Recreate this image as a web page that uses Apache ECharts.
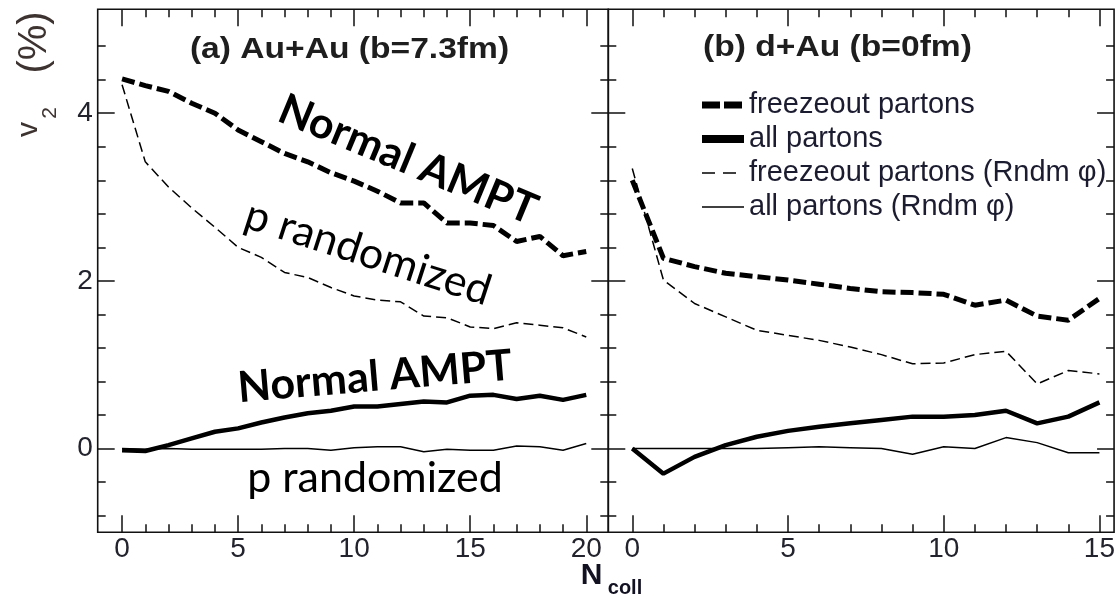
<!DOCTYPE html>
<html>
<head>
<meta charset="utf-8">
<script src="https://cdn.jsdelivr.net/npm/echarts@6/dist/echarts.min.js"></script>
<style>
  html, body { margin: 0; padding: 0; background: #fff; }
  #chart { width: 1118px; height: 605px; }
</style>
</head>
<body>
<div id="chart"></div>
<script>
// N_coll values
var nAuAu = [0, 1, 2, 3, 4, 5, 6, 7, 8, 9, 10, 11, 12, 13, 14, 15, 16, 17, 18, 19, 20];
var nDAu = [0, 1, 2, 3, 4, 5, 6, 7, 8, 9, 10, 11, 12, 13, 14, 15];

// (a) Au+Au, v2 in %
var auFreeze = [4.41, 4.33, 4.26, 4.12, 4.00, 3.80, 3.66, 3.52, 3.42, 3.29, 3.19, 3.07, 2.93, 2.93, 2.69, 2.69, 2.66, 2.47, 2.53, 2.30, 2.35];
var auAll = [-0.02, -0.03, 0.04, 0.12, 0.20, 0.24, 0.31, 0.37, 0.42, 0.45, 0.50, 0.50, 0.53, 0.56, 0.55, 0.63, 0.64, 0.59, 0.63, 0.58, 0.64];
var auFreezeRnd = [4.34, 3.42, 3.12, 2.87, 2.64, 2.40, 2.28, 2.10, 2.04, 1.92, 1.82, 1.77, 1.75, 1.58, 1.56, 1.45, 1.43, 1.50, 1.47, 1.44, 1.33];
var auAllRnd = [0.0, -0.01, 0.0, -0.01, -0.01, -0.01, -0.01, 0.0, 0.0, -0.02, 0.01, 0.02, 0.02, -0.04, -0.01, -0.02, -0.02, 0.03, 0.02, -0.02, 0.06];

// (b) d+Au
var daFreeze = [3.20, 2.27, 2.17, 2.09, 2.05, 2.01, 1.96, 1.91, 1.87, 1.86, 1.84, 1.71, 1.77, 1.58, 1.53, 1.79];
var daAll = [0.0, -0.30, -0.10, 0.04, 0.14, 0.21, 0.26, 0.30, 0.34, 0.38, 0.38, 0.40, 0.45, 0.30, 0.38, 0.55];
var daFreezeRnd = [3.34, 2.01, 1.73, 1.57, 1.41, 1.35, 1.29, 1.21, 1.12, 1.01, 1.02, 1.12, 1.16, 0.77, 0.93, 0.89];
var daAllRnd = [0.0, 0.0, 0.0, 0.0, 0.0, 0.01, 0.02, 0.01, 0.0, -0.07, 0.02, 0.0, 0.13, 0.07, -0.05, -0.05];

// ticks
var yMajor = [0, 2, 4];
var yMinor = [-0.8, -0.4, 0.4, 0.8, 1.2, 1.6, 2.4, 2.8, 3.2, 3.6, 4.4, 4.8];
var xMajorA = [0, 5, 10, 15, 20];
var xMajorB = [0, 5, 10, 15];
var names = ['freezeout partons', 'all partons', 'freezeout partons (Rndm \u03c6)', 'all partons (Rndm \u03c6)'];

var labelFont = 'Liberation Sans, Arial, sans-serif';

function ints(a, b) {
    var out = [];
    for (var i = a; i <= b; i++) out.push(i);
    return out;
}
function notFive(v) { return v % 5 !== 0; }

// one major + one minor axis for a side of a grid
function sideAxes(grid, min, max, major, minor, pos, showLabels) {
    var base = {
        type: 'value', gridIndex: grid, min: min, max: max, position: pos,
        axisLine: { show: false, onZero: false }, splitLine: { show: false }
    };
    var maj = Object.assign({}, base, {
        axisTick: { show: true, inside: true, length: 17, customValues: major, lineStyle: { color: '#111', width: 1.5 } },
        axisLabel: { show: showLabels, customValues: major, fontSize: 28, fontFamily: labelFont, color: '#23232e', margin: pos === 'left' ? 5 : 3 }
    });
    var mnr = Object.assign({}, base, {
        axisTick: { show: true, inside: true, length: 8, customValues: minor, lineStyle: { color: '#111', width: 1.5 } },
        axisLabel: { show: false }
    });
    return [maj, mnr];
}

var xAxes = [].concat(
    sideAxes(0, -1.05, 20.95, xMajorA, ints(1, 19).filter(notFive), 'bottom', true),
    sideAxes(0, -1.05, 20.95, xMajorA, ints(1, 19).filter(notFive), 'top', false),
    sideAxes(1, -0.77, 15.47, xMajorB, ints(1, 14).filter(notFive), 'bottom', true),
    sideAxes(1, -0.77, 15.47, xMajorB, ints(1, 14).filter(notFive), 'top', false)
);
var yAxes = [].concat(
    sideAxes(0, -1, 5.24, yMajor, yMinor, 'left', true),
    sideAxes(0, -1, 5.24, yMajor, yMinor, 'right', false),
    sideAxes(1, -1, 5.24, yMajor, yMinor, 'left', false),
    sideAxes(1, -1, 5.24, yMajor, yMinor, 'right', false)
);

var styles = [
    { width: 5, type: [13, 5], legendWidth: 7, legendType: [18, 4] },
    { width: 4.5, type: 'solid', legendWidth: 8, legendType: 'solid' },
    { width: 1.5, type: [10, 5], legendWidth: 1.5, legendType: [13, 8] },
    { width: 1.5, type: 'solid', legendWidth: 1.5, legendType: 'solid' }
];

function pairs(xs, ys) {
    return xs.map(function (x, i) { return [x, ys[i]]; });
}

function panelSeries(xIdx, yIdx, xs, sets) {
    return sets.map(function (ys, k) {
        return {
            type: 'line', name: names[k], xAxisIndex: xIdx, yAxisIndex: yIdx,
            data: pairs(xs, ys), symbol: 'none', smooth: false, animation: false,
            lineStyle: { color: '#000', width: styles[k].width, type: styles[k].type, cap: 'butt' },
            itemStyle: { color: '#000' }
        };
    });
}

var series = [].concat(
    panelSeries(0, 0, nAuAu, [auFreeze, auAll, auFreezeRnd, auAllRnd]),
    panelSeries(4, 4, nDAu, [daFreeze, daAll, daFreezeRnd, daAllRnd])
);

var legendData = names.map(function (n, k) {
    return {
        name: n,
        lineStyle: { color: '#000', width: styles[k].legendWidth, type: styles[k].legendType, cap: 'butt' },
        itemStyle: { color: 'rgba(0,0,0,0)', borderWidth: 0, opacity: 0 }
    };
});

var annoFont = 'Lato, Open Sans, sans-serif';
function txt(x, y, text, font, color, rot, sx) {
    return {
        type: 'text', x: x, y: y, rotation: rot || 0, scaleX: sx || 1, z: 100,
        style: { text: text, font: font, fill: color, align: 'center', verticalAlign: 'middle' }
    };
}

var option = {
    animation: false,
    grid: [
        { left: 97.7, top: 9.3, width: 510.6, height: 523, show: true, borderColor: '#111', borderWidth: 1.6, backgroundColor: 'transparent' },
        { left: 608.3, top: 9.3, width: 509, height: 523, show: true, borderColor: '#111', borderWidth: 1.6, backgroundColor: 'transparent' }
    ],
    xAxis: xAxes,
    yAxis: yAxes,
    legend: {
        data: legendData, orient: 'vertical', left: 693, top: 85,
        itemWidth: 42, itemHeight: 14, itemGap: 4,
        textStyle: { fontSize: 29, lineHeight: 30, fontFamily: labelFont, color: '#1c1c30' }
    },
    series: series,
    graphic: [
        txt(349.5, 50, '(a) Au+Au (b=7.3fm)', 'bold 30px ' + labelFont, '#1e1e1e', 0, 1.12),
        txt(837.5, 48, '(b) d+Au (b=0fm)', 'bold 30px ' + labelFont, '#1e1e1e', 0, 1.12),
        txt(29, 129.5, 'v', '30px ' + labelFont, '#3d3330', Math.PI / 2),
        txt(50, 113, '2', '21px ' + labelFont, '#3d3330', Math.PI / 2),
        txt(35, 42.5, '(%)', '40px ' + labelFont, '#3d3330', Math.PI / 2),
        txt(591.5, 576, 'N', 'bold 30px ' + labelFont, '#111122'),
        txt(625, 588, 'coll', 'bold 20px ' + labelFont, '#111122'),
        txt(408, 160, 'Normal AMPT', 'bold 43px ' + annoFont, '#000', -22.5 * Math.PI / 180),
        txt(368, 253, 'p randomized', '43px ' + annoFont, '#000', -18 * Math.PI / 180),
        txt(375, 377, 'Normal AMPT', 'bold 43px ' + annoFont, '#000', 4.8 * Math.PI / 180),
        txt(375, 478, 'p randomized', '43px ' + annoFont, '#000', 0)
    ]
};

var chart = echarts.init(document.getElementById('chart'));
chart.setOption(option);
</script>
</body>
</html>
